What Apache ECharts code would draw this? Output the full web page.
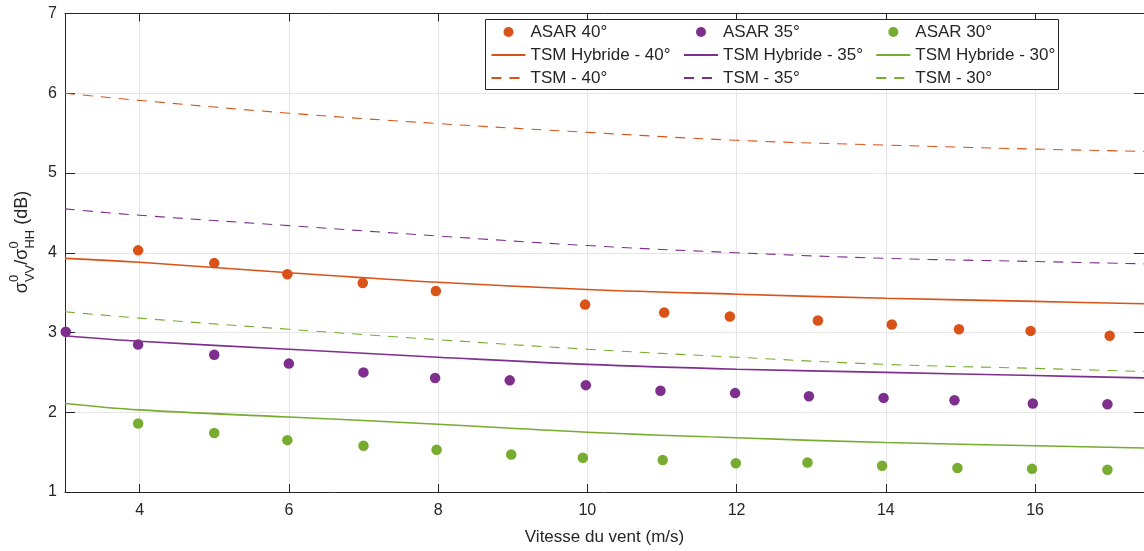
<!DOCTYPE html>
<html>
<head>
<meta charset="utf-8">
<script src="https://cdn.jsdelivr.net/npm/echarts@6/dist/echarts.min.js"></script>
<style>
html,body{margin:0;padding:0;background:#fff;}
#chart{width:1144px;height:551px;}
</style>
</head>
<body>
<div id="chart"></div>
<script>
// ---- data ----
var xTicks = [4, 6, 8, 10, 12, 14, 16];
var yTicks = [1, 2, 3, 4, 5, 6, 7];

var xAsar40 = [3.98, 5.0, 5.98, 6.99, 7.97, 9.97, 11.03, 11.91, 13.09, 14.08, 14.98, 15.94, 17.0];
var asar40  = [4.03, 3.87, 3.73, 3.62, 3.52, 3.35, 3.25, 3.20, 3.15, 3.10, 3.04, 3.02, 2.96];

var xAsar35 = [3.01, 3.98, 5.0, 6.0, 7.0, 7.96, 8.96, 9.98, 10.98, 11.98, 12.97, 13.97, 14.92, 15.97, 16.97];
var asar35  = [3.01, 2.85, 2.72, 2.61, 2.50, 2.43, 2.40, 2.34, 2.27, 2.24, 2.20, 2.18, 2.15, 2.11, 2.10];

var xAsar30 = [3.98, 5.0, 5.98, 7.0, 7.98, 8.98, 9.94, 11.01, 11.99, 12.95, 13.95, 14.96, 15.96, 16.97];
var asar30  = [1.86, 1.74, 1.65, 1.58, 1.53, 1.47, 1.43, 1.40, 1.36, 1.37, 1.33, 1.30, 1.29, 1.28];

var xCurve = [3, 4, 6, 8, 10, 12, 14, 16, 17.5];
var hyb40 = [3.93, 3.88, 3.75, 3.63, 3.54, 3.48, 3.43, 3.39, 3.36];
var hyb35 = [2.96, 2.89, 2.79, 2.69, 2.60, 2.54, 2.50, 2.46, 2.43];
var hyb30 = [2.11, 2.03, 1.94, 1.85, 1.75, 1.68, 1.62, 1.58, 1.55];
var tsm40 = [6.00, 5.91, 5.75, 5.62, 5.51, 5.41, 5.35, 5.30, 5.27];
var tsm35 = [4.55, 4.47, 4.34, 4.21, 4.09, 4.00, 3.93, 3.89, 3.86];
var tsm30 = [3.26, 3.18, 3.04, 2.91, 2.79, 2.69, 2.60, 2.55, 2.51];

var names = ['ASAR 40°', 'ASAR 35°', 'ASAR 30°',
             'TSM Hybride - 40°', 'TSM Hybride - 35°', 'TSM Hybride - 30°',
             'TSM - 40°', 'TSM - 35°', 'TSM - 30°'];

// ---- style ----
var C40 = '#D95319', C35 = '#7E2F8E', C30 = '#77AC30';
var TXT = '#262626';
var FONT = '"Liberation Sans", Arial, Helvetica, sans-serif';

function pairs(xs, ys) { return xs.map(function (x, i) { return [x, ys[i]]; }); }

function scatter(name, xs, ys, color) {
  return { name: name, type: 'scatter', data: pairs(xs, ys), symbol: 'circle', symbolSize: 10.5,
           itemStyle: { color: color, opacity: 1 }, z: 5 };
}
function curve(name, ys, color, dashed) {
  return { name: name, type: 'line', data: pairs(xCurve, ys), smooth: 0.4, symbol: 'none', showSymbol: false,
           lineStyle: { color: color, width: dashed ? 1.1 : 1.6, type: dashed ? [10, 8] : 'solid' },
           itemStyle: { color: color }, z: 3 };
}

// ---- y label pieces (rotated) ----
var cv = document.createElement('canvas').getContext('2d');
function tw(t, size) { cv.font = size + 'px ' + FONT; return cv.measureText(t).width; }
var MS = 18, SS = 13;
var pieces = [];
var cx = 0;
function addMain(t) { pieces.push({ t: t, x: cx, y: 0, s: MS }); cx += tw(t, MS); }
function addScripts(sup, sub) {
  pieces.push({ t: sup, x: cx, y: -8, s: SS });
  pieces.push({ t: sub, x: cx, y: 8, s: SS });
  cx += Math.max(tw(sup, SS), tw(sub, SS));
}
addMain('σ'); addScripts('0', 'VV'); addMain('/'); addMain('σ'); addScripts('0', 'HH'); addMain(' (dB)');
var labelChildren = pieces.map(function (p) {
  return { type: 'text', style: { text: p.t, x: p.x, y: p.y, fill: TXT,
           font: p.s + 'px ' + FONT, align: 'left', verticalAlign: 'middle' } };
});
var labelLen = cx;

// ---- legend: one column per incidence angle ----
var legendCols = [490.5, 683, 875.3];
function legendCol(col) {
  var items = [names[col], names[col + 3], names[col + 6]].map(function (n, i) {
    return i === 0 ? { name: n } : { name: n, itemStyle: { opacity: 0 } };
  });
  return {
    show: true, orient: 'vertical', left: legendCols[col], top: 23.5, padding: 0,
    itemGap: 6, itemWidth: 34, itemHeight: 10, z: 11,
    data: items,
    textStyle: { color: TXT, fontSize: 17, fontFamily: FONT },
    selectedMode: false
  };
}

var chart = echarts.init(document.getElementById('chart'), null, { renderer: 'canvas' });

var axisLineStyle = { color: TXT, width: 1 };
var option = {
  animation: false,
  backgroundColor: '#fff',
  grid: { left: 65, right: 0, top: 13.5, bottom: 56.5, containLabel: false },
  xAxis: [{
    type: 'value', min: 3, max: 17.46, position: 'bottom',
    axisLine: { show: true, onZero: false, lineStyle: axisLineStyle },
    axisTick: { show: true, inside: true, length: 8, customValues: xTicks, lineStyle: axisLineStyle },
    axisLabel: { show: true, customValues: xTicks, color: TXT, fontSize: 16, fontFamily: FONT, margin: 11 },
    splitLine: { show: true, lineStyle: { color: '#e6e6e6', width: 1 } },
    name: 'Vitesse du vent (m/s)', nameLocation: 'middle', nameGap: 37,
    nameTextStyle: { color: TXT, fontSize: 17, fontFamily: FONT }
  }, {
    type: 'value', min: 3, max: 17.46, position: 'top',
    axisLine: { show: true, onZero: false, lineStyle: axisLineStyle },
    axisTick: { show: true, inside: true, length: 8, customValues: xTicks, lineStyle: axisLineStyle },
    axisLabel: { show: false }, splitLine: { show: false }
  }],
  yAxis: [{
    type: 'value', min: 1, max: 7, interval: 1, position: 'left',
    axisLine: { show: true, onZero: false, lineStyle: axisLineStyle },
    axisTick: { show: true, inside: true, length: 10, lineStyle: axisLineStyle },
    axisLabel: { show: true, color: TXT, fontSize: 16, fontFamily: FONT, margin: 8 },
    splitLine: { show: true, lineStyle: { color: '#e6e6e6', width: 1 } }
  }, {
    type: 'value', min: 1, max: 7, interval: 1, position: 'right',
    axisLine: { show: true, onZero: false, lineStyle: axisLineStyle },
    axisTick: { show: true, inside: true, length: 10, lineStyle: axisLineStyle },
    axisLabel: { show: false }, splitLine: { show: false }
  }],
  legend: [legendCol(0), legendCol(1), legendCol(2)],
  graphic: [{
    type: 'rect', z: 10, shape: { x: 485.5, y: 19.5, width: 573, height: 70 },
    style: { fill: '#fff', stroke: TXT, lineWidth: 1 }
  }, {
    type: 'group', x: 22, y: 242 + labelLen / 2, rotation: Math.PI / 2,
    children: labelChildren
  }],
  series: [
    scatter(names[0], xAsar40, asar40, C40),
    scatter(names[1], xAsar35, asar35, C35),
    scatter(names[2], xAsar30, asar30, C30),
    curve(names[3], hyb40, C40, false),
    curve(names[4], hyb35, C35, false),
    curve(names[5], hyb30, C30, false),
    curve(names[6], tsm40, C40, true),
    curve(names[7], tsm35, C35, true),
    curve(names[8], tsm30, C30, true)
  ]
};
chart.setOption(option);
</script>
</body>
</html>
